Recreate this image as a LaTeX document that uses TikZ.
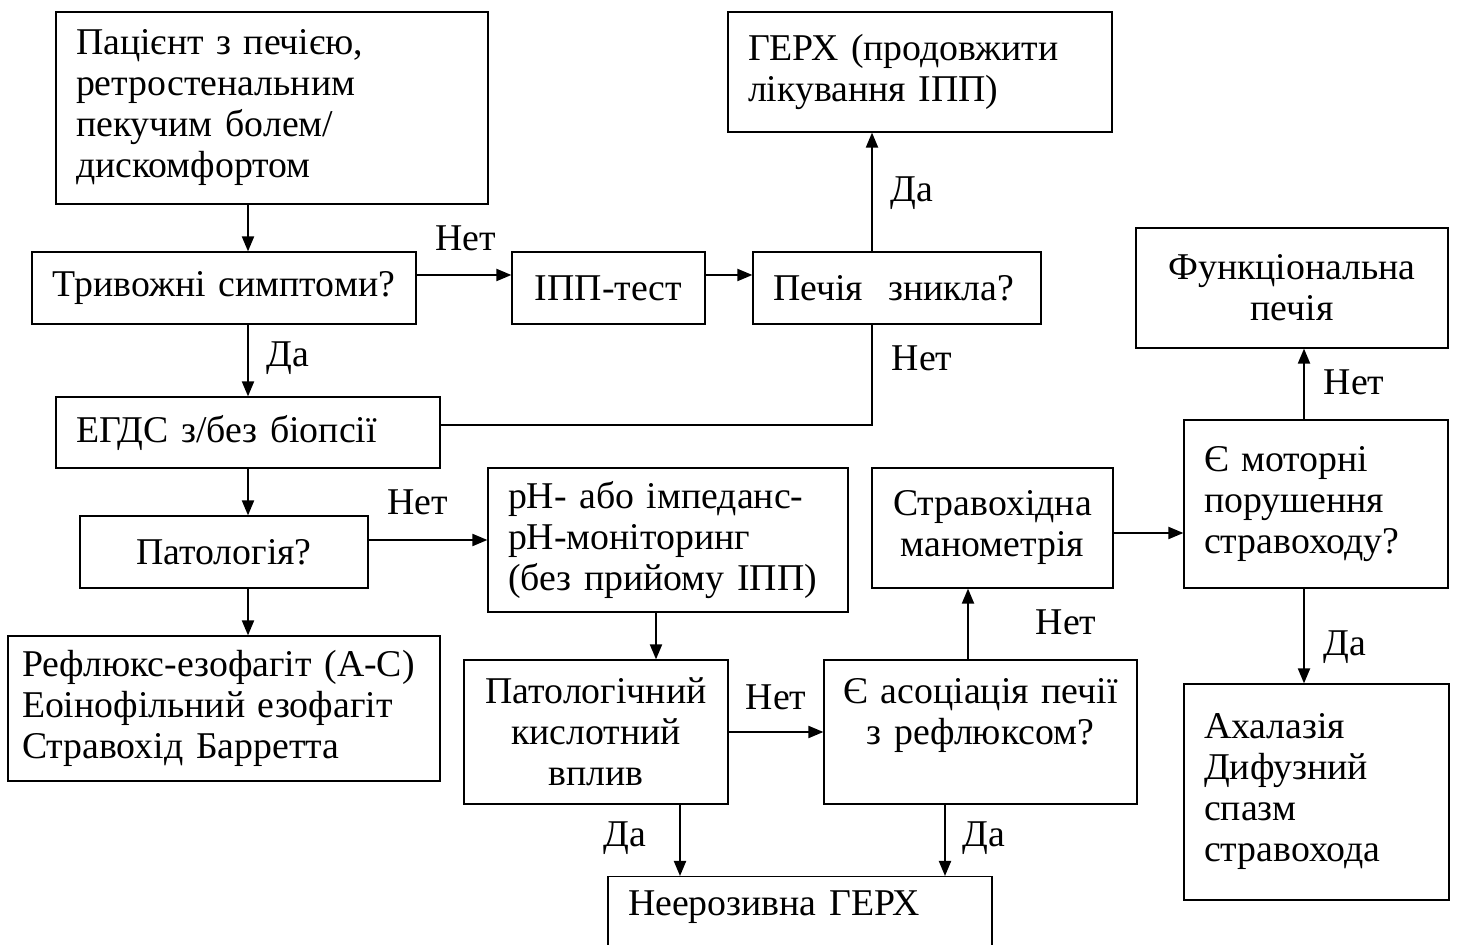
\documentclass[tikz,border=0pt]{standalone}
\usepackage{fontspec}
\setmainfont{Liberation Serif}
\usetikzlibrary{arrows.meta,positioning}

\newcommand{\flowfont}{\fontsize{18.9pt}{20.5pt}\selectfont}

\begin{document}
\begin{tikzpicture}[x=0.5pt,y=-0.5pt,
  box/.style={draw, line width=0.6pt, inner ysep=0pt, font=\flowfont},
  lbox/.style={box, align=left, inner xsep=10pt},
  cbox/.style={box, align=center, inner xsep=4pt},
  lbl/.style={font=\flowfont, inner sep=0pt},
  arr/.style={line width=1pt, -{Triangle[length=7.5pt,width=6pt]}},
  ]
\useasboundingbox (0,0) rectangle (1457,945);
\clip (0,0) rectangle (1457,945);

% boxes
\node[lbox, text width=196pt, minimum height=96pt] (pat) at (272,108)
  {Пацієнт з печією,\\ретростенальним\\пекучим болем/\\дискомфортом};
\node[cbox, text width=184pt, minimum height=36pt] (trev) at (224,288) {Тривожні симптоми?};
\node[cbox, text width=88.5pt, minimum height=36pt] (ipp) at (608.5,288) {ІПП-тест};
\node[lbox, text width=124pt, minimum height=36pt] (pech) at (897,288) {Печія\ \ зникла?};
\node[lbox, text width=172pt, minimum height=60pt] (gerx) at (920,72)
  {ГЕРХ (продовжити\\лікування ІПП)};
\node[lbox, text width=172pt, minimum height=35.5pt] (egds) at (248,432.5) {ЕГДС з/без біопсії};
\node[cbox, text width=136pt, minimum height=36pt] (patol) at (224,552) {Патологія?};
\node[lbox, inner xsep=7pt, text width=202pt, minimum height=72.5pt] (refl) at (224,708.5)
  {\mbox{Рефлюкс-езофагіт (А-С)}\\Еоінофільний езофагіт\\Стравохід Барретта};
\node[lbox, text width=160pt, minimum height=72pt] (ph) at (668,540)
  {pH- або імпеданс-\\pH-моніторинг\\(без прийому ІПП)};
\node[cbox, text width=124pt, minimum height=72pt] (kisl) at (596,732)
  {Патологічний\\кислотний\\вплив};
\node[cbox, text width=148.5pt, minimum height=72pt] (asoc) at (980.5,732)
  {Є асоціація печії\\з рефлюксом?\\ \mbox{}};
\node[cbox, text width=112.5pt, minimum height=60pt] (mano) at (992.5,528)
  {Стравохідна\\манометрія};
\node[lbox, text width=112pt, minimum height=84pt] (motor) at (1316,504)
  {Є моторні\\порушення\\стравоходу?};
\node[cbox, text width=148pt, minimum height=60pt] (func) at (1292,288)
  {Функціональна\\печія};
\node[lbox, text width=112.5pt, minimum height=108pt] (ahal) at (1316.5,792)
  {Ахалазія\\Дифузний\\спазм\\стравохода};
\node[lbox, text width=172pt, anchor=north, text height=19.5pt, text depth=40pt] (neer) at (800,876)
  {Неерозивна ГЕРХ};

% connectors
\draw[arr] (pat.south -| egds) -- (trev.north -| egds);
\draw[arr] (trev.south -| egds) -- (egds.north);
\draw[arr] (egds.south) -- (patol.north -| egds);
\draw[arr] (patol.south -| egds) -- (refl.north -| egds);
\draw[arr] ([yshift=6.5pt]trev.east) -- ([yshift=6.5pt]ipp.west);
\draw[arr] ([yshift=6.5pt]ipp.east) -- ([yshift=6.5pt]pech.west);
\draw[arr] ([xshift=-12.5pt]pech.north) -- ([xshift=-12.5pt]pech.north |- gerx.south);
\draw[line width=0.6pt] ([yshift=3.75pt]egds.east) -| ([xshift=-12.5pt]pech.south);
\draw[arr] ([yshift=6pt]patol.east) -- ([yshift=6pt]patol.east -| ph.west);
\draw[arr] ([xshift=-6pt]ph.south) -- ([xshift=-6pt]ph.south |- kisl.north);
\draw[arr] (kisl.east) -- (asoc.west);
\draw[arr] ([xshift=-6.25pt]asoc.north) -- ([xshift=-6.25pt]asoc.north |- mano.south);
\draw[arr] ([yshift=-2.5pt]mano.east) -- ([yshift=-2.5pt]mano.east -| motor.west);
\draw[arr] ([xshift=-6pt]motor.north) -- ([xshift=-6pt]motor.north |- func.south);
\draw[arr] ([xshift=-6pt]motor.south) -- ([xshift=-6pt]motor.south |- ahal.north);
\draw[arr] ([xshift=42pt]kisl.south) -- ([xshift=42pt]kisl.south |- neer.north);
\draw[arr] ([xshift=-17.75pt]asoc.south) -- ([xshift=-17.75pt]asoc.south |- neer.north);

% labels
\node[lbl] (n1) at (466,238) {Нет};
\node[lbl] (d1) at (912,193) {Да};
\node[lbl] (d2) at (288,358) {Да};
\node[lbl] (n2) at (922,358) {Нет};
\node[lbl] (n3) at (1354,382) {Нет};
\node[lbl] (n4) at (418,502) {Нет};
\node[lbl] (n5) at (1066,622) {Нет};
\node[lbl] (d3) at (1345,647) {Да};
\node[lbl] (n6) at (776,697) {Нет};
\node[lbl] (d4) at (625,838) {Да};
\node[lbl] (d5) at (984,838) {Да};
\end{tikzpicture}
\end{document}
